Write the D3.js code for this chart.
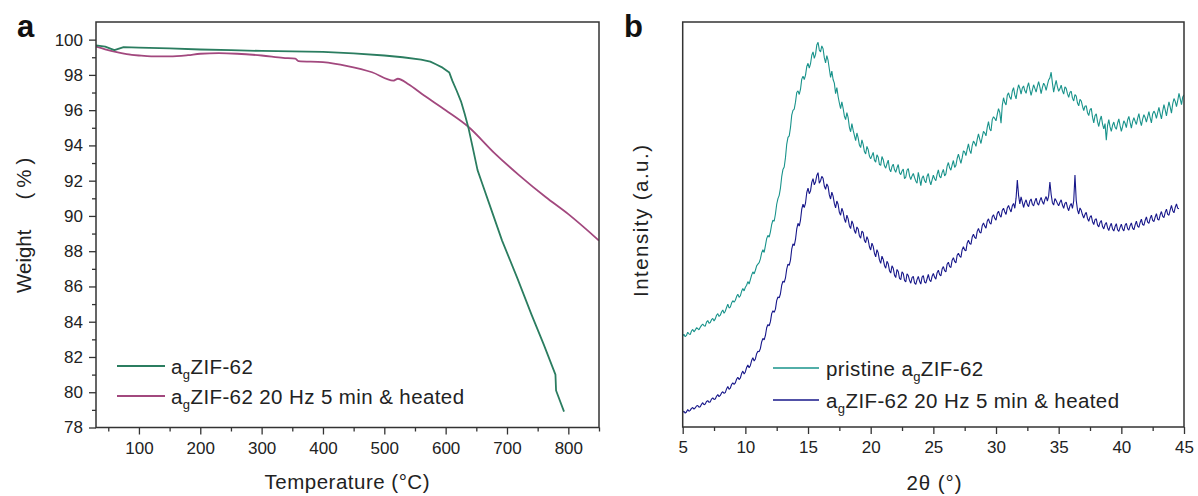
<!DOCTYPE html>
<html>
<head>
<meta charset="utf-8">
<script src="https://cdn.jsdelivr.net/npm/d3@7"></script>
<style>
  body { margin: 0; background: #fff; }
  svg { display: block; font-family: Arial, "Liberation Sans", sans-serif; }
</style>
</head>
<body>
<div id="chart"></div>
<script>
"use strict";

// ---- panel a : TGA ----
const tgaTempPristine = [30, 45, 60, 75, 100, 150, 200, 250, 300, 350, 400, 450, 500, 530, 560, 575, 584, 595, 606, 611, 618, 625, 631, 637, 644, 652, 660, 671, 692, 717, 740, 760, 779, 780, 793];
const tgaWeightPristine = [99.68, 99.6, 99.4, 99.58, 99.55, 99.5, 99.44, 99.4, 99.36, 99.33, 99.3, 99.22, 99.1, 99.0, 98.87, 98.75, 98.6, 98.41, 98.13, 97.66, 97.1, 96.5, 95.8, 95.02, 93.9, 92.6, 91.8, 90.7, 88.6, 86.46, 84.4, 82.7, 81.0, 80.1, 78.9];
const tgaTempMilled = [30, 45, 62, 80, 100, 120, 150, 180, 200, 230, 260, 300, 335, 355, 360, 400, 440, 480, 515, 518, 522, 540, 562, 600, 637, 680, 720, 763, 800, 850];
const tgaWeightMilled = [99.6, 99.45, 99.3, 99.18, 99.1, 99.05, 99.05, 99.12, 99.2, 99.23, 99.2, 99.1, 98.97, 98.92, 98.78, 98.72, 98.5, 98.15, 97.68, 97.72, 97.78, 97.45, 96.9, 96.0, 95.06, 93.55, 92.3, 91.07, 90.1, 88.6];
const tgaXTicks = [100, 200, 300, 400, 500, 600, 700, 800];
const tgaXMinor = [50, 150, 250, 350, 450, 550, 650, 750, 850];
const tgaYTicks = [78, 80, 82, 84, 86, 88, 90, 92, 94, 96, 98, 100];
const tgaYMinor = [79, 81, 83, 85, 87, 89, 91, 93, 95, 97, 99];

// ---- panel b : XRD, 2θ from 5° in 0.1° steps ----
const xrdStart = 5, xrdStep = 0.1;
const xrdPristine = [
  22.5, 22.9, 22.3, 22.6, 23.4, 23.0, 22.8, 23.7, 24.1, 23.5, 23.9, 24.5, 24.3, 24.0, 24.6, 25.1, 25.4, 25.0, 24.9, 25.9,
  26.3, 25.6, 25.8, 26.5, 26.8, 26.2, 26.7, 27.6, 28.0, 27.3, 27.6, 28.4, 28.9, 28.1, 28.6, 29.5, 30.3, 29.4, 29.6, 30.6,
  31.2, 30.8, 31.3, 32.2, 32.8, 32.0, 32.4, 33.5, 34.2, 33.6, 34.5, 35.0, 35.9, 35.3, 36.4, 37.5, 38.3, 37.8, 38.7, 39.8,
  40.2, 40.6, 41.5, 43.0, 43.8, 43.1, 44.8, 46.5, 47.3, 46.9, 48.2, 50.0, 51.1, 50.8, 52.6, 55.0, 56.4, 57.2, 59.0, 61.8,
  63.6, 64.2, 66.5, 69.8, 71.5, 71.9, 73.9, 77.0, 78.2, 78.5, 80.2, 82.6, 83.0, 82.1, 83.4, 85.9, 86.6, 85.8, 86.9, 89.0,
  89.8, 88.6, 89.7, 91.8, 92.6, 91.0, 92.0, 94.3, 95.0, 93.1, 92.6, 94.1, 93.4, 91.2, 89.9, 91.7, 90.5, 88.4, 86.3, 87.9,
  85.8, 84.9, 82.3, 83.8, 81.6, 80.0, 78.6, 80.3, 78.7, 76.8, 75.9, 77.6, 76.4, 74.0, 72.9, 74.9, 73.3, 72.0, 70.7, 72.6,
  71.4, 69.6, 69.0, 70.9, 69.8, 68.0, 67.4, 69.3, 68.5, 66.9, 66.2, 67.0, 67.8, 65.9, 65.4, 67.2, 66.6, 64.8, 64.6, 66.8,
  66.0, 64.5, 63.9, 65.0, 65.9, 63.7, 63.0, 64.3, 64.9, 63.5, 62.9, 64.0, 64.8, 62.8, 62.3, 63.2, 63.7, 61.3, 61.7, 63.4,
  63.8, 62.0, 61.1, 62.0, 62.6, 61.6, 60.7, 60.2, 62.9, 61.3, 59.6, 61.5, 62.0, 60.8, 60.3, 61.9, 62.6, 60.8, 59.8, 61.0,
  62.2, 61.3, 60.8, 62.4, 63.5, 61.9, 61.5, 62.8, 63.6, 62.0, 62.5, 64.4, 65.3, 64.0, 63.4, 64.7, 65.8, 64.1, 64.6, 66.3,
  67.4, 66.2, 65.1, 66.5, 68.2, 67.9, 67.0, 68.6, 69.9, 68.3, 67.5, 69.5, 70.6, 70.1, 69.3, 71.0, 72.4, 71.1, 70.0, 71.6,
  73.0, 72.6, 71.9, 74.0, 75.4, 73.6, 73.1, 75.9, 76.6, 76.2, 75.6, 77.2, 78.6, 77.7, 75.0, 79.4, 81.3, 80.1, 79.5, 81.9,
  82.5, 81.4, 80.9, 82.9, 83.8, 82.0, 81.0, 83.1, 84.5, 83.6, 82.2, 83.7, 84.2, 83.0, 82.4, 84.0, 85.0, 83.3, 81.9, 83.2,
  84.5, 83.6, 82.7, 84.1, 85.3, 83.9, 82.3, 83.8, 84.9, 84.3, 83.1, 84.5, 85.7, 86.2, 87.6, 84.9, 82.7, 84.3, 85.6, 84.0,
  82.9, 83.5, 84.4, 83.0, 82.2, 84.0, 83.6, 82.3, 81.4, 82.6, 82.9, 81.2, 80.5, 82.1, 81.7, 80.0, 79.3, 80.9, 80.5, 79.2,
  78.1, 79.2, 79.3, 77.6, 76.9, 78.3, 78.7, 76.5, 75.1, 76.9, 77.3, 75.4, 74.2, 75.8, 76.8, 74.8, 73.6, 74.9, 70.8, 74.4,
  75.9, 74.1, 73.0, 74.5, 75.3, 74.0, 73.5, 75.0, 76.1, 74.4, 73.0, 74.2, 75.6, 75.0, 73.9, 75.8, 76.7, 75.2, 73.8, 75.4,
  76.4, 75.5, 74.7, 76.2, 77.4, 75.6, 74.4, 76.0, 77.1, 76.4, 75.3, 76.6, 77.9, 76.3, 75.1, 77.3, 78.0, 77.4, 76.2, 77.6,
  78.9, 77.4, 76.1, 78.0, 79.6, 78.3, 76.8, 78.7, 80.3, 79.0, 77.5, 79.8, 81.1, 80.4, 79.1, 80.6, 82.4, 81.0, 79.6, 81.5,
  82.0
];
const xrdMilled = [
  3.6, 3.9, 3.4, 3.7, 4.3, 3.9, 4.1, 4.6, 4.8, 4.4, 4.7, 5.2, 5.3, 4.9, 5.0, 5.6, 6.0, 5.5, 5.7, 6.3,
  6.5, 6.1, 6.2, 6.9, 7.2, 6.8, 6.9, 7.6, 8.0, 7.5, 7.8, 8.4, 8.7, 8.3, 8.5, 9.4, 10.0, 9.3, 9.6, 10.5,
  10.9, 10.5, 10.9, 11.8, 12.3, 11.7, 12.1, 13.2, 13.8, 13.1, 13.6, 14.7, 15.3, 14.6, 15.2, 16.4, 17.1, 16.3, 16.8, 18.1,
  18.7, 18.6, 19.4, 21.0, 21.9, 21.5, 22.6, 24.5, 25.3, 25.0, 26.0, 28.0, 28.7, 28.3, 29.1, 31.2, 32.1, 31.9, 32.9, 35.0,
  36.0, 35.7, 36.8, 39.0, 40.2, 39.9, 41.2, 43.9, 45.2, 44.8, 46.3, 48.9, 50.3, 49.6, 51.1, 53.8, 55.0, 54.2, 55.3, 57.9,
  59.0, 57.6, 58.3, 60.4, 61.3, 59.8, 60.5, 62.1, 62.8, 60.2, 60.8, 61.9, 61.4, 59.5, 58.7, 60.0, 59.4, 57.3, 56.3, 58.0,
  57.0, 55.2, 54.1, 55.8, 55.0, 53.0, 52.3, 54.0, 53.1, 51.4, 50.5, 52.3, 51.4, 49.7, 49.0, 50.9, 50.1, 48.5, 47.8, 49.4,
  48.9, 47.2, 46.6, 48.4, 48.0, 46.1, 45.5, 47.0, 46.2, 44.5, 43.7, 45.4, 44.6, 42.9, 42.0, 43.8, 43.0, 41.2, 40.4, 42.2,
  41.4, 39.9, 39.2, 40.9, 40.3, 38.6, 38.0, 39.8, 39.2, 37.5, 36.9, 38.9, 38.4, 36.7, 36.4, 38.3, 37.9, 36.2, 35.8, 37.8,
  37.4, 36.2, 35.5, 36.9, 37.2, 35.6, 35.2, 36.4, 37.2, 36.0, 35.3, 37.0, 37.4, 35.8, 35.5, 36.6, 37.7, 36.3, 35.9, 37.2,
  37.9, 37.0, 36.5, 38.1, 38.7, 37.6, 37.3, 39.0, 39.6, 38.6, 38.3, 40.2, 40.7, 39.6, 39.4, 41.2, 41.8, 40.9, 40.5, 42.4,
  42.9, 42.2, 41.9, 43.8, 44.5, 43.7, 43.5, 45.4, 46.1, 45.3, 45.1, 46.9, 47.6, 46.8, 46.5, 48.3, 49.0, 48.1, 47.9, 49.7,
  50.4, 49.6, 49.1, 50.8, 51.4, 50.4, 50.1, 51.9, 52.4, 51.5, 51.1, 52.7, 53.3, 52.3, 51.8, 53.5, 54.0, 53.1, 52.5, 54.1,
  54.7, 53.8, 53.1, 54.6, 55.2, 54.0, 56.5, 61.0, 57.2, 55.1, 56.8, 55.5, 54.2, 55.4, 56.1, 54.9, 54.4, 55.8, 56.3, 55.0,
  54.6, 55.7, 56.5, 55.2, 54.8, 55.9, 56.7, 55.6, 55.0, 56.2, 56.9, 55.8, 57.0, 60.5, 57.4, 55.4, 54.8, 56.4, 55.9, 55.2,
  54.6, 55.5, 56.1, 54.8, 54.0, 55.2, 55.5, 54.2, 53.4, 54.6, 55.2, 54.0, 55.8, 62.2, 56.0, 53.6, 52.6, 54.1, 53.5, 52.4,
  51.6, 52.5, 53.0, 51.5, 50.8, 51.8, 52.2, 50.7, 50.0, 51.2, 51.4, 49.9, 49.4, 50.5, 51.0, 49.5, 48.9, 50.0, 50.5, 49.2,
  48.5, 49.6, 50.3, 48.9, 48.4, 49.5, 50.2, 48.7, 48.3, 49.3, 50.1, 48.9, 48.4, 49.8, 50.3, 49.0, 48.6, 49.7, 50.4, 49.1,
  48.7, 49.9, 50.8, 49.6, 49.3, 50.5, 51.3, 50.0, 49.8, 51.0, 51.9, 50.6, 50.3, 51.5, 52.3, 51.0, 50.7, 51.8, 52.7, 51.3,
  51.1, 52.4, 53.2, 52.0, 51.7, 53.0, 53.8, 52.5, 52.3, 53.6, 54.7, 53.4, 52.9, 54.2, 55.1, 54.0, 53.9
];
const xrdXTicks = [5, 10, 15, 20, 25, 30, 35, 40, 45];
const xrdXMinor = [7.5, 12.5, 17.5, 22.5, 27.5, 32.5, 37.5, 42.5];

const colors = {
  green: "#2b7d60",
  pink: "#a2487e",
  teal: "#19938b",
  navy: "#17178a",
  frame: "#333"
};

const W = 1198, H = 496;
const pa = {left: 96, right: 599, top: 22, bottom: 427.5};
const pb = {left: 682.7, right: 1184, top: 22, bottom: 427};

const svg = d3.select("#chart").append("svg")
  .attr("width", W).attr("height", H);

const defs = svg.append("defs");
defs.append("clipPath").attr("id", "clipA").append("rect")
  .attr("x", pa.left).attr("y", pa.top)
  .attr("width", pa.right - pa.left).attr("height", pa.bottom - pa.top);
defs.append("clipPath").attr("id", "clipB").append("rect")
  .attr("x", pb.left).attr("y", pb.top)
  .attr("width", pb.right - pb.left).attr("height", pb.bottom - pb.top);

function styleAxis(g) {
  g.select(".domain").remove();
  g.selectAll(".tick line").attr("stroke", colors.frame).attr("stroke-width", 1.3);
  g.selectAll(".tick text").attr("fill", "#222").style("font-size", "17px")
    .style("font-family", "Arial, 'Liberation Sans', sans-serif");
}

function frame(p) {
  svg.append("rect")
    .attr("x", p.left).attr("y", p.top)
    .attr("width", p.right - p.left).attr("height", p.bottom - p.top)
    .attr("fill", "none").attr("stroke", colors.frame).attr("stroke-width", 1.5);
}

// legend labels with subscript "g"
function agLabel(sel, before, after) {
  const t = sel.append("text").attr("fill", "#222").style("font-size", "20.5px")
    .attr("letter-spacing", "0.4px");
  if (before) t.append("tspan").text(before);
  t.append("tspan").text("a");
  t.append("tspan").text("g").style("font-size", "13px").attr("dy", 5);
  t.append("tspan").text(after).attr("dy", -5);
  return t;
}

// ================= panel a =================
const xa = d3.scaleLinear().domain([30, 850]).range([pa.left, pa.right]);
const ya = d3.scaleLinear().domain([78, 101]).range([pa.bottom, pa.top]);

svg.append("g").attr("transform", `translate(0,${pa.bottom})`)
  .call(d3.axisBottom(xa).tickValues(tgaXTicks).tickSize(7).tickPadding(7).tickFormat(d3.format("d")))
  .call(styleAxis);
svg.append("g").attr("transform", `translate(0,${pa.bottom})`)
  .call(d3.axisBottom(xa).tickValues(tgaXMinor).tickSize(4).tickFormat(""))
  .call(styleAxis);
svg.append("g").attr("transform", `translate(${pa.left},0)`)
  .call(d3.axisLeft(ya).tickValues(tgaYTicks).tickSize(7).tickPadding(6).tickFormat(d3.format("d")))
  .call(styleAxis);
svg.append("g").attr("transform", `translate(${pa.left},0)`)
  .call(d3.axisLeft(ya).tickValues(tgaYMinor).tickSize(4).tickFormat(""))
  .call(styleAxis);

const lineSmooth = d3.line()
  .x((d) => xa(d[0]))
  .y((d) => ya(d[1]))
  .curve(d3.curveMonotoneX);
const lineStraight = d3.line()
  .x((d) => xa(d[0]))
  .y((d) => ya(d[1]));

const gA = svg.append("g").attr("clip-path", "url(#clipA)");
gA.append("path")
  .datum(d3.zip(tgaTempMilled, tgaWeightMilled))
  .attr("fill", "none").attr("stroke", colors.pink).attr("stroke-width", 1.8)
  .attr("d", lineSmooth);
gA.append("path")
  .datum(d3.zip(tgaTempPristine, tgaWeightPristine))
  .attr("fill", "none").attr("stroke", colors.green).attr("stroke-width", 1.8)
  .attr("stroke-linejoin", "round")
  .attr("d", lineStraight);

frame(pa);

// legend a
const legA = [
  {color: colors.green, after: "ZIF-62", y: 366},
  {color: colors.pink, after: "ZIF-62 20 Hz 5 min & heated", y: 396}
];
legA.forEach((d) => {
  svg.append("line").attr("x1", 117).attr("x2", 165).attr("y1", d.y).attr("y2", d.y)
    .attr("stroke", d.color).attr("stroke-width", 1.8);
  agLabel(svg, null, d.after).attr("x", 171).attr("y", d.y + 8);
});

svg.append("text").attr("x", 347).attr("y", 489).attr("text-anchor", "middle")
  .style("font-size", "20.5px").attr("fill", "#222")
  .attr("textLength", 165).attr("lengthAdjust", "spacing")
  .text("Temperature (\u00B0C)");

const wLabel = svg.append("text").attr("transform", "translate(31,293) rotate(-90)")
  .attr("text-anchor", "start").style("font-size", "20.5px").attr("fill", "#222");
wLabel.append("tspan").text("Weight");
wLabel.append("tspan").attr("dx", 30).attr("letter-spacing", "5px").text("(%)");

svg.append("text").attr("x", 17).attr("y", 36.5)
  .style("font-size", "31px").style("font-weight", "bold").attr("fill", "#111").text("a");

// ================= panel b =================
const xb = d3.scaleLinear().domain([5, 45]).range([pb.left, pb.right]);
const yb = d3.scaleLinear().domain([0, 100]).range([pb.bottom, pb.top]);

svg.append("g").attr("transform", `translate(0,${pb.bottom})`)
  .call(d3.axisBottom(xb).tickValues(xrdXTicks).tickSize(7).tickPadding(7).tickFormat(d3.format("d")))
  .call(styleAxis);
svg.append("g").attr("transform", `translate(0,${pb.bottom})`)
  .call(d3.axisBottom(xb).tickValues(xrdXMinor).tickSize(4).tickFormat(""))
  .call(styleAxis);

const lineB = d3.line()
  .x((d, i) => xb(xrdStart + i * xrdStep))
  .y((d) => yb(d));

const gB = svg.append("g").attr("clip-path", "url(#clipB)");
gB.append("path").datum(xrdPristine)
  .attr("fill", "none").attr("stroke", colors.teal).attr("stroke-width", 1.1)
  .attr("stroke-linejoin", "bevel").attr("d", lineB);
gB.append("path").datum(xrdMilled)
  .attr("fill", "none").attr("stroke", colors.navy).attr("stroke-width", 1.1)
  .attr("stroke-linejoin", "bevel").attr("d", lineB);

frame(pb);

// legend b
const legB = [
  {color: colors.teal, before: "pristine ", after: "ZIF-62", y: 368},
  {color: colors.navy, before: null, after: "ZIF-62 20 Hz 5 min & heated", y: 400}
];
legB.forEach((d) => {
  svg.append("line").attr("x1", 773).attr("x2", 819).attr("y1", d.y).attr("y2", d.y)
    .attr("stroke", d.color).attr("stroke-width", 1.5);
  agLabel(svg, d.before, d.after).attr("x", 826).attr("y", d.y + 8);
});

svg.append("text").attr("x", 934).attr("y", 490).attr("text-anchor", "middle")
  .style("font-size", "20.5px").attr("fill", "#222")
  .attr("textLength", 55).attr("lengthAdjust", "spacing")
  .text("2\u03B8 (\u00B0)");
svg.append("text").attr("transform", "translate(648,221) rotate(-90)")
  .attr("text-anchor", "middle").style("font-size", "20.5px").attr("fill", "#222")
  .attr("textLength", 152).attr("lengthAdjust", "spacing")
  .text("Intensity (a.u.)");
svg.append("text").attr("x", 624).attr("y", 36.5)
  .style("font-size", "31px").style("font-weight", "bold").attr("fill", "#111").text("b");
</script>
</body>
</html>
